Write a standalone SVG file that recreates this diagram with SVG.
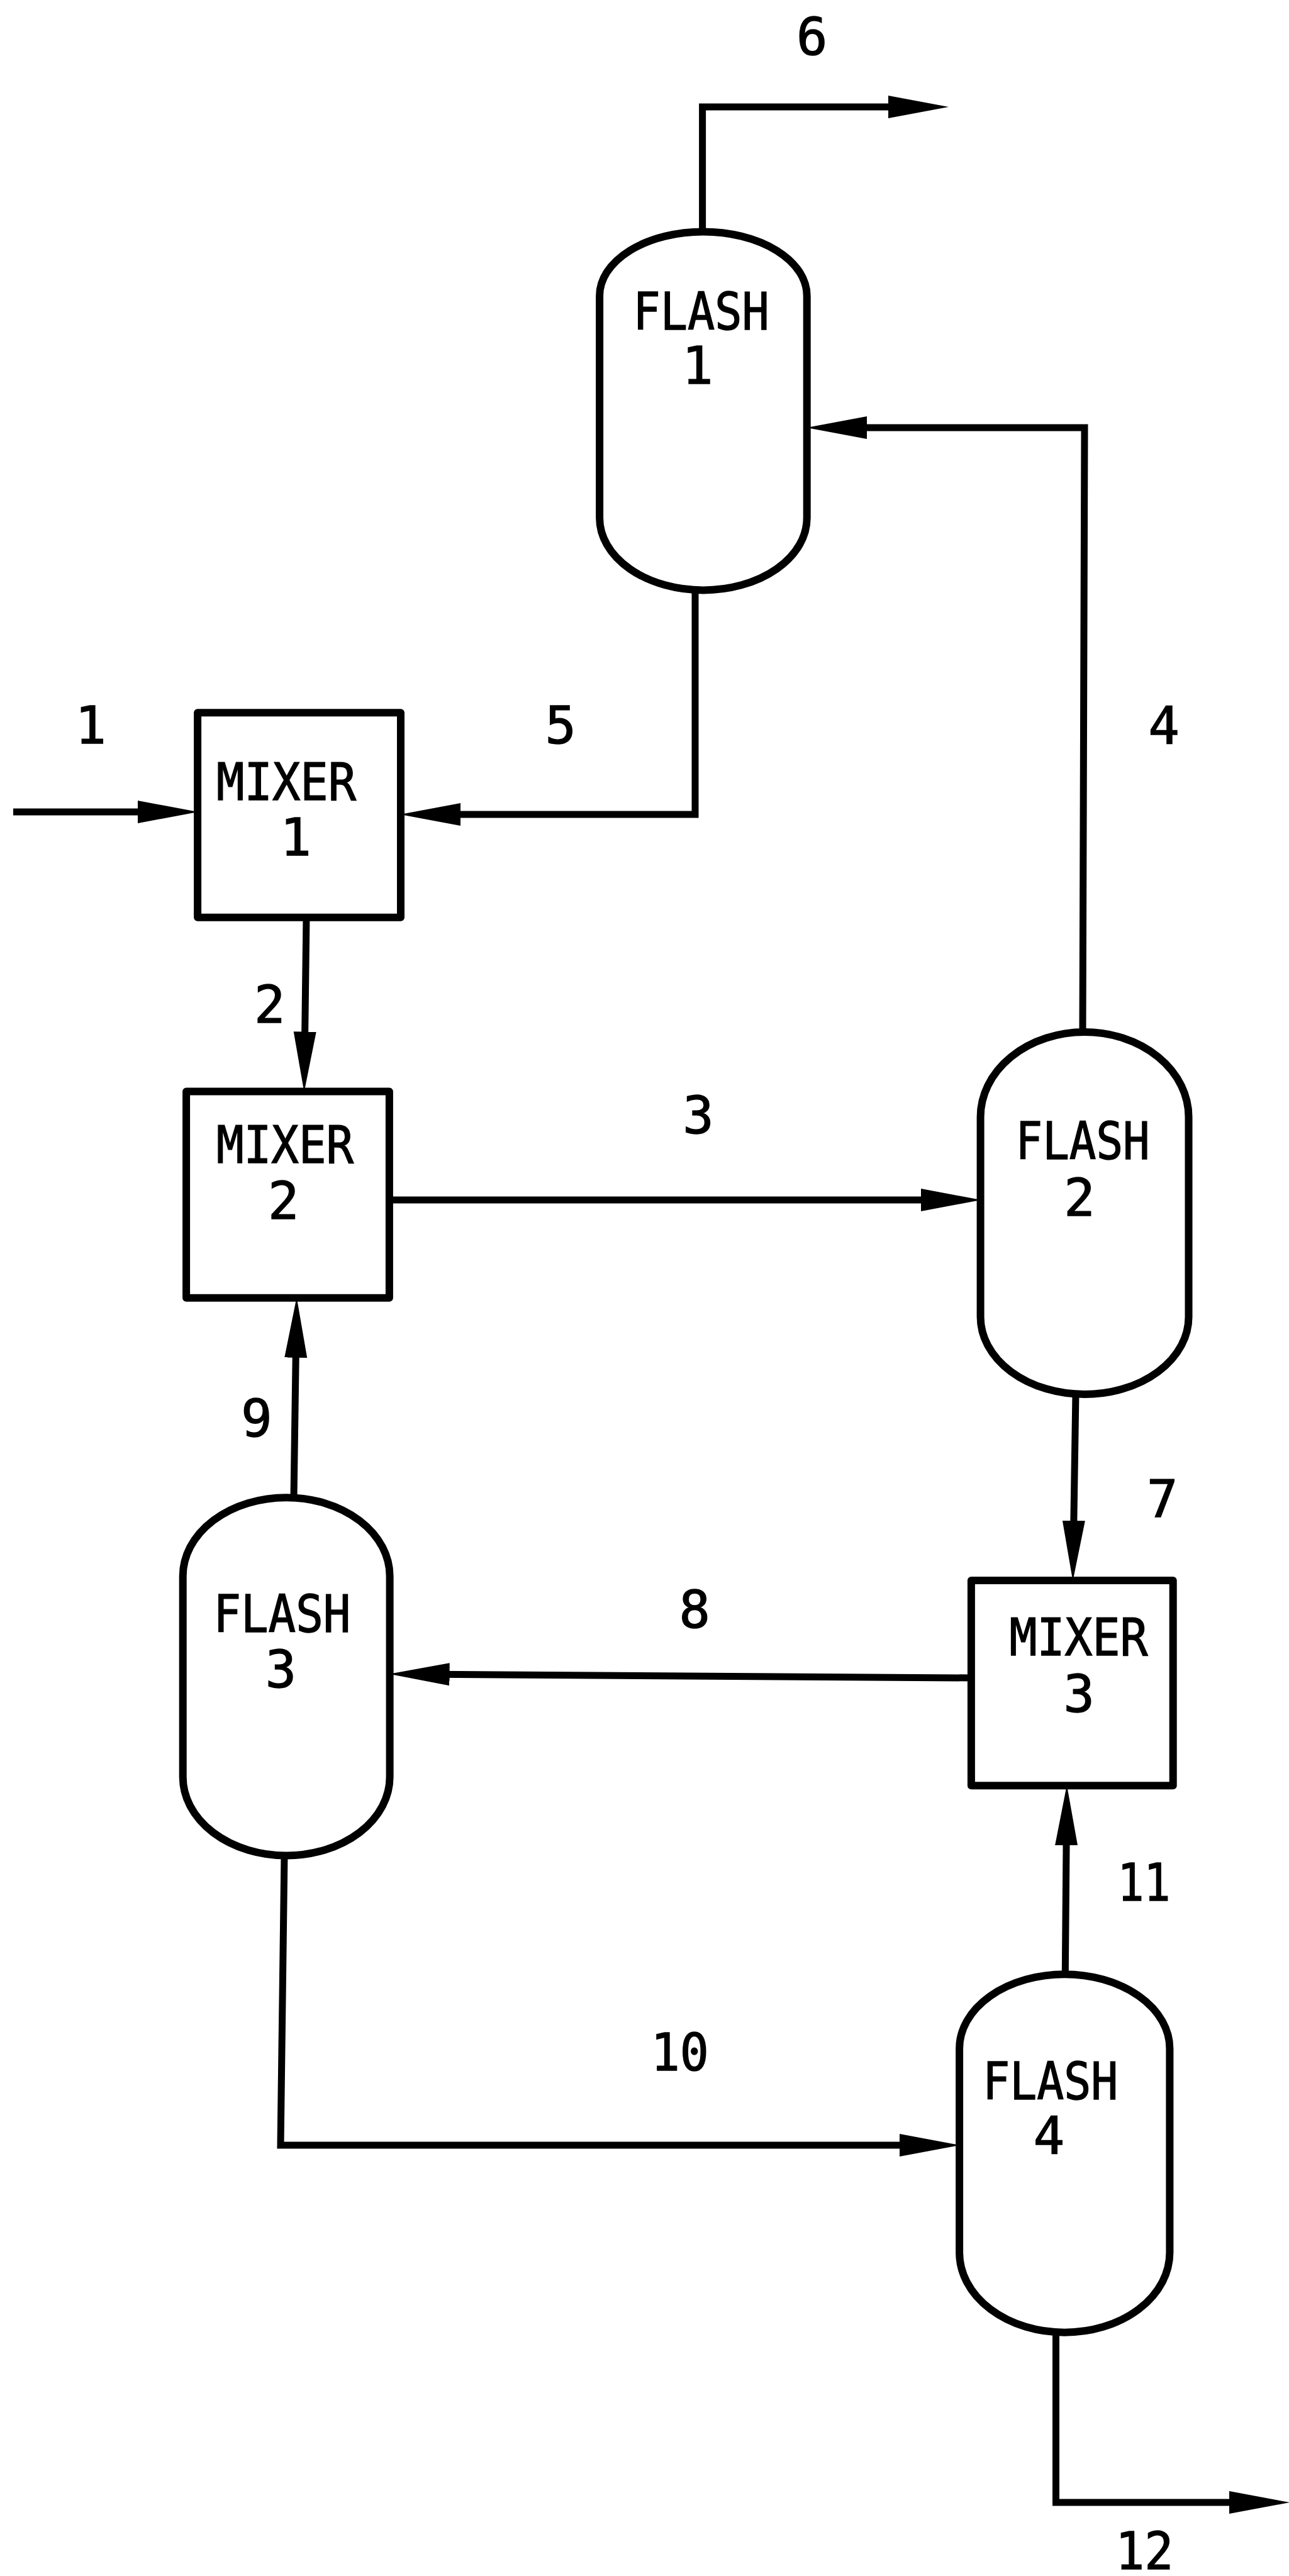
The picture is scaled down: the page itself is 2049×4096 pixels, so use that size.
<svg xmlns="http://www.w3.org/2000/svg" width="2049" height="4096" viewBox="0 0 2049 4096">
<style>
.node{fill:none;stroke:#000;stroke-width:12;stroke-linejoin:round}
.conn{fill:none;stroke:#000;stroke-width:11;stroke-linejoin:miter;marker-end:url(#arrow)}
text{font-family:"DejaVu Sans Mono","Liberation Mono",monospace;font-size:82px;fill:#000;stroke:#000;stroke-width:1.5;text-anchor:middle}
</style>
<defs>
<marker id="arrow" markerUnits="userSpaceOnUse" markerWidth="100" markerHeight="44" viewBox="0 -22 100 44" refX="55" refY="0" orient="auto">
<path d="M0,-18 L96,0 L0,18 Z" fill="#000"/>
</marker>
</defs>
<rect width="2049" height="4096" fill="#fff"/>
<g id="flash1">
<path class="node" d="M953.1,470.4 A164.8,102 0 0 1 1282.7,470.4 V823.4 A164.8,115 0 0 1 953.1,823.4 Z"/>
<text x="1114.6" y="523.8" textLength="216" lengthAdjust="spacingAndGlyphs">FLASH</text>
<text x="1109" y="610.2">1</text>
</g>
<g id="flash2">
<path class="node" d="M1558.6,1776 A165.45,135 0 0 1 1889.5,1776 V2094 A165.45,123 0 0 1 1558.6,2094 Z"/>
<text x="1721.1" y="1843.3" textLength="213" lengthAdjust="spacingAndGlyphs">FLASH</text>
<text x="1716" y="1933">2</text>
</g>
<g id="flash3">
<path class="node" d="M290.7,2506.1 A164.45,125 0 0 1 619.6,2506.1 V2825.5 A164.45,125 0 0 1 290.7,2825.5 Z"/>
<text x="448.4" y="2594.8" textLength="218" lengthAdjust="spacingAndGlyphs">FLASH</text>
<text x="446.4" y="2682.5">3</text>
</g>
<g id="flash4">
<path class="node" d="M1525.1,3257.3 A167.15,118 0 0 1 1859.4,3257.3 V3581.7 A167.15,127 0 0 1 1525.1,3581.7 Z"/>
<text x="1669.8" y="3338.3" textLength="215" lengthAdjust="spacingAndGlyphs">FLASH</text>
<text x="1667.5" y="3424">4</text>
</g>
<g id="mixer1">
<rect class="node" x="314.1" y="1133.3" width="322.9" height="325.5"/>
<text x="455.1" y="1271.9" textLength="222" lengthAdjust="spacingAndGlyphs">MIXER</text>
<text x="470.2" y="1360.4">1</text>
</g>
<g id="mixer2">
<rect class="node" x="296.1" y="1735.5" width="322.8" height="328.2"/>
<text x="453.1" y="1848.6" textLength="218" lengthAdjust="spacingAndGlyphs">MIXER</text>
<text x="450.8" y="1937.7">2</text>
</g>
<g id="mixer3">
<rect class="node" x="1543.9" y="2513.1" width="320.8" height="326.2"/>
<text x="1714.4" y="2632.3" textLength="220" lengthAdjust="spacingAndGlyphs">MIXER</text>
<text x="1715.3" y="2722">3</text>
</g>
<g id="connectors">
<path class="conn" d="M1116.6,368.4 V170 H1467"/>
<path class="conn" d="M1721,1641 L1724,680 H1323"/>
<path class="conn" d="M1105,938.4 V1295 H677"/>
<path class="conn" d="M21,1291 H274"/>
<path class="conn" d="M487,1458.8 L484,1695.5"/>
<path class="conn" d="M618.9,1908 H1518.6"/>
<path class="conn" d="M1710,2217 L1706,2473"/>
<path class="conn" d="M1543.9,2668 L659.6,2662"/>
<path class="conn" d="M467,2381 L471,2103.7"/>
<path class="conn" d="M452,2950.5 L446,3411 H1485"/>
<path class="conn" d="M1693.3,3139.3 L1695.5,2879.3"/>
<path class="conn" d="M1678.5,3708.7 V3979 H2009"/>
</g>
<g id="stream-labels">
<text x="1290.7" y="87.1">6</text>
<text x="144.3" y="1182.2">1</text>
<text x="891.2" y="1182.2">5</text>
<text x="1850.3" y="1182.2">4</text>
<text x="428.7" y="1625.6">2</text>
<text x="1109.9" y="1802.4">3</text>
<text x="407.9" y="2284">9</text>
<text x="1847.7" y="2412">7</text>
<text x="1104.2" y="2588.1">8</text>
<text x="1818.5" y="3022.1" textLength="84" lengthAdjust="spacingAndGlyphs">11</text>
<text x="1080.7" y="3292.1" textLength="92" lengthAdjust="spacingAndGlyphs">10</text>
<text x="1819.2" y="4085" textLength="92" lengthAdjust="spacingAndGlyphs">12</text>
</g>
</svg>
